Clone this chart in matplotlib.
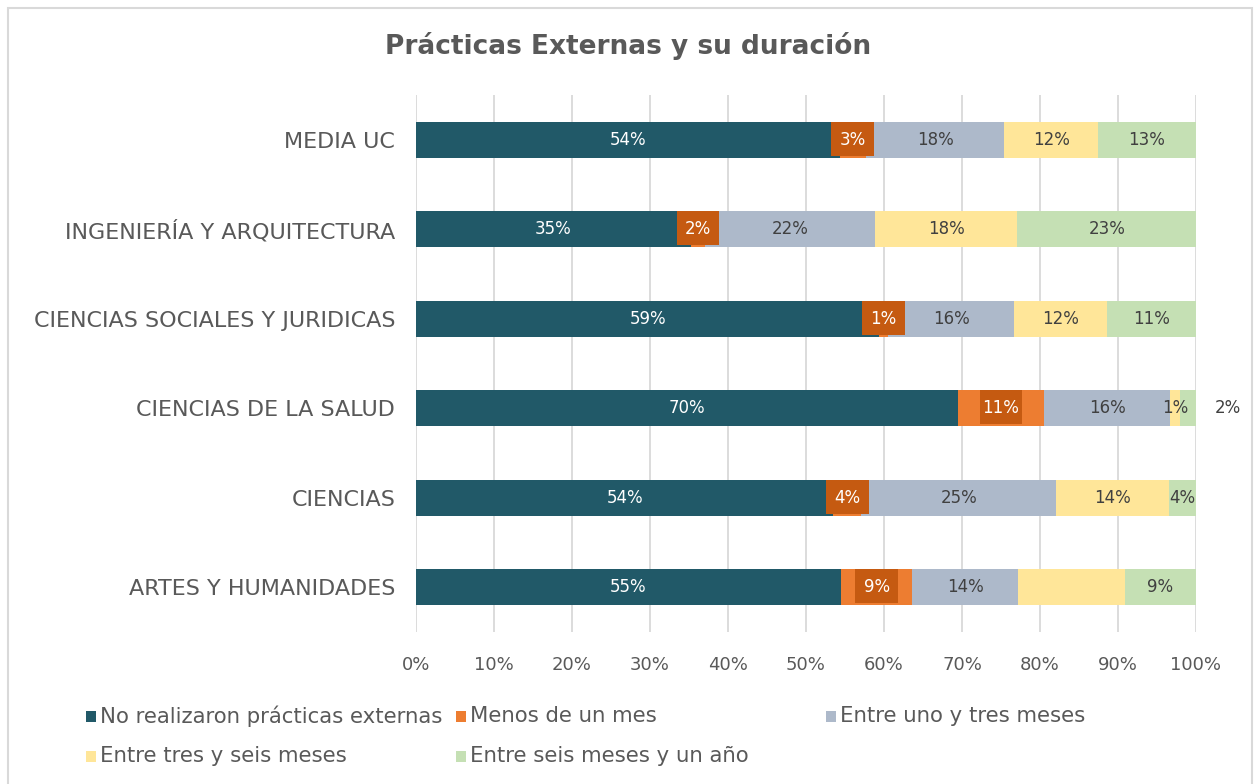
import matplotlib
matplotlib.use("Agg")
import matplotlib.pyplot as plt
from matplotlib.patches import Rectangle
import numpy as np

plt.rcParams['font.family'] = ['DejaVu Sans']

categories = ["MEDIA UC", "INGENIERÍA Y ARQUITECTURA", "CIENCIAS SOCIALES Y JURIDICAS",
              "CIENCIAS DE LA SALUD", "CIENCIAS", "ARTES Y HUMANIDADES"]
series_names = ["No realizaron prácticas externas", "Menos de un mes",
                "Entre uno y tres meses", "Entre tres y seis meses",
                "Entre seis meses y un año"]

no_practicas = [54.3, 35.2, 59.4, 69.5, 53.5, 54.5]
menos_mes = [3.4, 1.9, 1.1, 11.0, 3.6, 9.1]
uno_tres = [17.7, 21.7, 16.2, 16.2, 25.0, 13.6]
tres_seis = [12.05, 18.3, 11.9, 1.2, 14.4, 13.7]
seis_anio = [12.55, 22.9, 11.4, 2.1, 3.5, 9.1]

lbl_no = ["54%", "35%", "59%", "70%", "54%", "55%"]
lbl_menos = ["3%", "2%", "1%", "11%", "4%", "9%"]
lbl_uno = ["18%", "22%", "16%", "16%", "25%", "14%"]
lbl_tres = ["12%", "18%", "12%", "1%", "14%", ""]
lbl_seis = ["13%", "23%", "11%", "2%", "4%", "9%"]

values = [no_practicas, menos_mes, uno_tres, tres_seis, seis_anio]
labels = [lbl_no, lbl_menos, lbl_uno, lbl_tres, lbl_seis]
colors = ["#215968", "#ED7D31", "#ADB9CA", "#FFE699", "#C5E0B4"]
text_colors = ["white", "white", "#404040", "#404040", "#404040"]
TXT = "#595959"

W, H = 1256, 784
fig = plt.figure(figsize=(W / 100, H / 100), dpi=100)
fig.patch.set_facecolor("white")

# outer border
fig.add_artist(Rectangle((8 / W, -0.05), (1252 - 8) / W, (H - 8) / H + 0.05,
                         transform=fig.transFigure, fill=False,
                         edgecolor="#D9D9D9", linewidth=1.5))

ax = fig.add_axes([416 / W, (H - 632) / H, 780 / W, 537 / H])
n = len(categories)
y = np.arange(n)[::-1]
bar_h = 0.4
left = np.zeros(n)
for si, (vals, lbls) in enumerate(zip(values, labels)):
    vals = np.array(vals)
    ax.barh(y, vals, left=left, height=bar_h, color=colors[si], zorder=2,
            edgecolor="none")
    for i in range(n):
        if not lbls[i]:
            continue
        cx = left[i] + vals[i] / 2
        if si == 1:
            bw = 5.5
            bh = bar_h - 0.022
            ax.add_patch(Rectangle((cx - bw / 2, y[i] - bar_h / 2 + 0.022), bw, bh,
                                   facecolor="#C55A11", edgecolor="none", zorder=3))
        if si == len(values) - 1 and vals[i] < 3:
            cx = 104.1
        ax.text(cx, y[i], lbls[i], ha="center", va="center", fontsize=12,
                color=text_colors[si], zorder=4, clip_on=False)
    left = left + vals

ax.set_xlim(0, 100)
ax.set_ylim(-0.5, n - 0.5)
ax.set_xticks(np.arange(0, 101, 10))
ax.set_xticklabels([f"{t}%" for t in range(0, 101, 10)])
ax.set_yticks(y)
ax.set_yticklabels(categories)
ax.grid(axis="x", color="#D9D9D9", linewidth=1.3, zorder=0)
ax.set_axisbelow(True)
for s in ax.spines.values():
    s.set_visible(False)
ax.tick_params(axis="both", length=0, colors=TXT)
ax.tick_params(axis="x", pad=17, labelsize=13)
ax.tick_params(axis="y", pad=15, labelsize=16)

fig.text(0.5, 1 - 46 / H, "Prácticas Externas y su duración", ha="center",
         va="center", fontsize=19, fontweight="bold", color=TXT)

# legend (row-major, 3 columns)
col_x = [86, 456, 826]
row_y = [716, 756]
for i, name in enumerate(series_names):
    c, r = i % 3, i // 3
    x0, yc = col_x[c], row_y[r]
    fig.add_artist(Rectangle((x0 / W, 1 - (yc + 6) / H), 10 / W, 11 / H,
                             transform=fig.transFigure, facecolor=colors[i],
                             edgecolor="none"))
    fig.text((x0 + 14) / W, 1 - yc / H, name, ha="left", va="center",
             fontsize=15.3, color=TXT)

fig.savefig("out.png", dpi=100, facecolor="white")
